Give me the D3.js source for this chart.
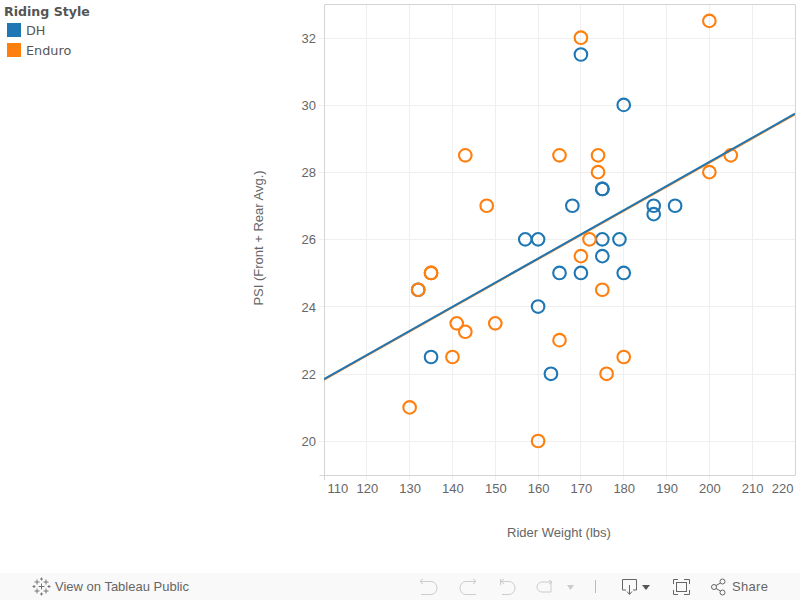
<!DOCTYPE html>
<html><head><meta charset="utf-8">
<script src="https://cdn.jsdelivr.net/npm/d3@7"></script>
<style>html,body{margin:0;padding:0;background:#fff;overflow:hidden}svg{display:block}</style>
</head><body><svg id="c" width="800" height="600"></svg>
<script>
const styles = ["DH","Enduro"];
const colors = ["#1f77b4","#ff7f0e"];
const xTicks = [110,120,130,140,150,160,170,180,190,200,210,220];
const yTicks = [20,22,24,26,28,30,32];
const dhWeight = [170,180,175,175,168,187,192,187,157,160,175,179,175,165,170,180,160,132,135,163];
const dhPsi    = [31.5,30,27.5,27.5,27,27,27,26.75,26,26,26,26,25.5,25,25,25,24,24.5,22.5,22];
const enduroWeight = [170,200,143,165,174,174,148,200,205,172,170,135,135,132,175,141,150,143,165,140,180,176,130,160];
const enduroPsi    = [32,32.5,28.5,28.5,28.5,28,27,28,28.5,26,25.5,25,25,24.5,24.5,23.5,23.5,23.25,23,22.5,22.5,22,21,20];
const trendWeight = [110,220];
const enduroTrend = [21.84,29.73];
const dhTrend = [21.85,29.75];

const svg = d3.select("#c");
const L=324,R=795,T=4.5,B=475;
const x = d3.scaleLinear().domain([110,220]).range([L,R]);
const y = d3.scaleLinear().domain([19,33]).range([B,T]);
const sans = "'Liberation Sans',Arial,sans-serif", dj = "'DejaVu Sans',Verdana,sans-serif";
const px = v => Math.floor(v)+.5;

// legend
svg.append("text").attr("x",4).attr("y",16).attr("font-family",dj).attr("font-weight","bold").attr("font-size",12.6).attr("fill","#555").text("Riding Style");
styles.forEach((s,i)=>{
  svg.append("rect").attr("x",7).attr("y",23+i*20).attr("width",14).attr("height",14).attr("fill",colors[i]);
  svg.append("text").attr("x",26).attr("y",35+i*20).attr("font-family",dj).attr("font-size",12.8).attr("fill","#555").text(s);
});

// grid
const grid = svg.append("g").attr("stroke","#efefef").attr("stroke-width",1);
grid.selectAll(".v").data(xTicks.filter(d=>d>110&&d<220)).join("line")
  .attr("x1",d=>px(x(d))).attr("x2",d=>px(x(d))).attr("y1",T).attr("y2",B+5);
grid.selectAll(".h").data(yTicks).join("line")
  .attr("x1",L-5).attr("x2",R).attr("y1",d=>px(y(d))).attr("y2",d=>px(y(d)));

// axes (ticks are carried by the grid lines)
const xAxis = svg.append("g").attr("transform",`translate(0,${B})`).call(d3.axisBottom(x).tickValues(xTicks).tickSize(0).tickPadding(9).tickFormat(d3.format("d")));
const yAxis = svg.append("g").attr("transform",`translate(${L},0)`).call(d3.axisLeft(y).tickValues(yTicks).tickSize(0).tickPadding(8).tickFormat(d3.format("d")));
[xAxis,yAxis].forEach(a=>{
  a.attr("font-family",sans).attr("font-size",13);
  a.selectAll("text").attr("fill","#666");
  a.select(".domain").remove();
});
xAxis.selectAll("g.tick").filter(d=>d===110).select("text").attr("text-anchor","start").attr("dx",3);
xAxis.selectAll("g.tick").filter(d=>d===220).select("text").attr("text-anchor","end").attr("dx",-2);
svg.append("path").attr("d",`M324.5,0M324.5,480V4.5H795.5V475.5H319.5`).attr("fill","none").attr("stroke","#d4d4d4");

svg.append("text").attr("x",559).attr("y",537).attr("text-anchor","middle").attr("font-family",sans).attr("font-size",13).attr("fill","#666").text("Rider Weight (lbs)");
svg.append("text").attr("transform","translate(263,238) rotate(-90)").attr("text-anchor","middle").attr("font-family",sans).attr("font-size",13).attr("fill","#666").text("PSI (Front + Rear Avg.)");

svg.append("clipPath").attr("id","pl").append("rect").attr("x",L).attr("y",T).attr("width",R-L).attr("height",B-T);

const line = d3.line().x(d=>x(d[0])).y(d=>y(d[1]));
function points(w,p,c){
  svg.append("g").selectAll("circle").data(d3.zip(w,p)).join("circle")
    .attr("cx",d=>x(d[0])).attr("cy",d=>y(d[1])-.4).attr("r",6.3)
    .attr("fill","none").attr("stroke",c).attr("stroke-width",2.1);
}
points(dhWeight,dhPsi,colors[0]);
points(enduroWeight,enduroPsi,colors[1]);
[[enduroTrend,colors[1]],[dhTrend,colors[0]]].forEach(([t,c])=>{
  svg.append("path").attr("clip-path","url(#pl)").attr("d",line(d3.zip(trendWeight,t))).attr("fill","none").attr("stroke",c).attr("stroke-width",2);
});

// toolbar
const tb = svg.append("g");
tb.append("rect").attr("x",0).attr("y",573).attr("width",800).attr("height",27).attr("fill","#f9f9f9");
tb.append("text").attr("x",55).attr("y",591).attr("font-family",sans).attr("font-size",13).attr("fill","#666").text("View on Tableau Public");
tb.append("text").attr("x",732).attr("y",591).attr("font-family",sans).attr("font-size",13).attr("letter-spacing",.3).attr("fill","#666").text("Share");
// tableau mark
const mark = tb.append("g").attr("stroke","#777").attr("stroke-width",1).attr("fill","none");
[[41.5,586.5,3],[41.5,579,1.5],[41.5,594,1.5],[34,586.5,1.5],[49,586.5,1.5],[37,582,2.5],[46,582,2.5],[37,591,2.5],[46,591,2.5]].forEach(([a,b,s])=>{
  mark.append("path").attr("d",`M${a-s},${b}H${a+s}M${a},${b-s}V${b+s}`);
});
// disabled icons
const off = tb.append("g").attr("stroke","#ccc").attr("stroke-width",1).attr("fill","none");
off.append("path").attr("d","M420,581.5H431a6,6.5 0 0 1 0,13H421M423,579l-3,2.5l3,2.5");
off.append("path").attr("d","M476,581.5H466a6,6.5 0 0 0 0,13H476M473,579l3,2.5l-3,2.5");
off.append("path").attr("d","M500.5,579V585M501,581.5H509a6,6.5 0 0 1 0,13H502M504,579l-3,2.5l3,2.5");
off.append("path").attr("d","M542,582H551V592H542a5,5 0 0 1 0,-10ZM549,580l3,2l-3,2");
tb.append("path").attr("d","M567,585h7l-3.5,5z").attr("fill","#ccc");
tb.append("line").attr("x1",595.5).attr("x2",595.5).attr("y1",580).attr("y2",593).attr("stroke","#bbb");
// download, fullscreen, share
const on = tb.append("g").attr("stroke","#666").attr("stroke-width",1).attr("fill","none");
on.append("path").attr("d","M626,590H622.5V579.5H636.5V590H633M629.5,585V594M627,591.5l2.5,3l2.5,-3");
tb.append("path").attr("d","M642,585h8l-4,5z").attr("fill","#555");
on.append("path").attr("d","M678,579.5H673.5V584M673.5,590V594.5H678M684,579.5H689.5V584M689.5,590V594.5H684");
on.append("rect").attr("x",676.5).attr("y",582.5).attr("width",10).attr("height",9);
on.append("circle").attr("cx",714).attr("cy",587).attr("r",2.5);
on.append("circle").attr("cx",722.5).attr("cy",581.5).attr("r",2.5);
on.append("circle").attr("cx",722.5).attr("cy",592.5).attr("r",2.5);
on.append("path").attr("d","M716,585.5L720.5,583M716,588.5L720.5,591");
</script></body></html>
